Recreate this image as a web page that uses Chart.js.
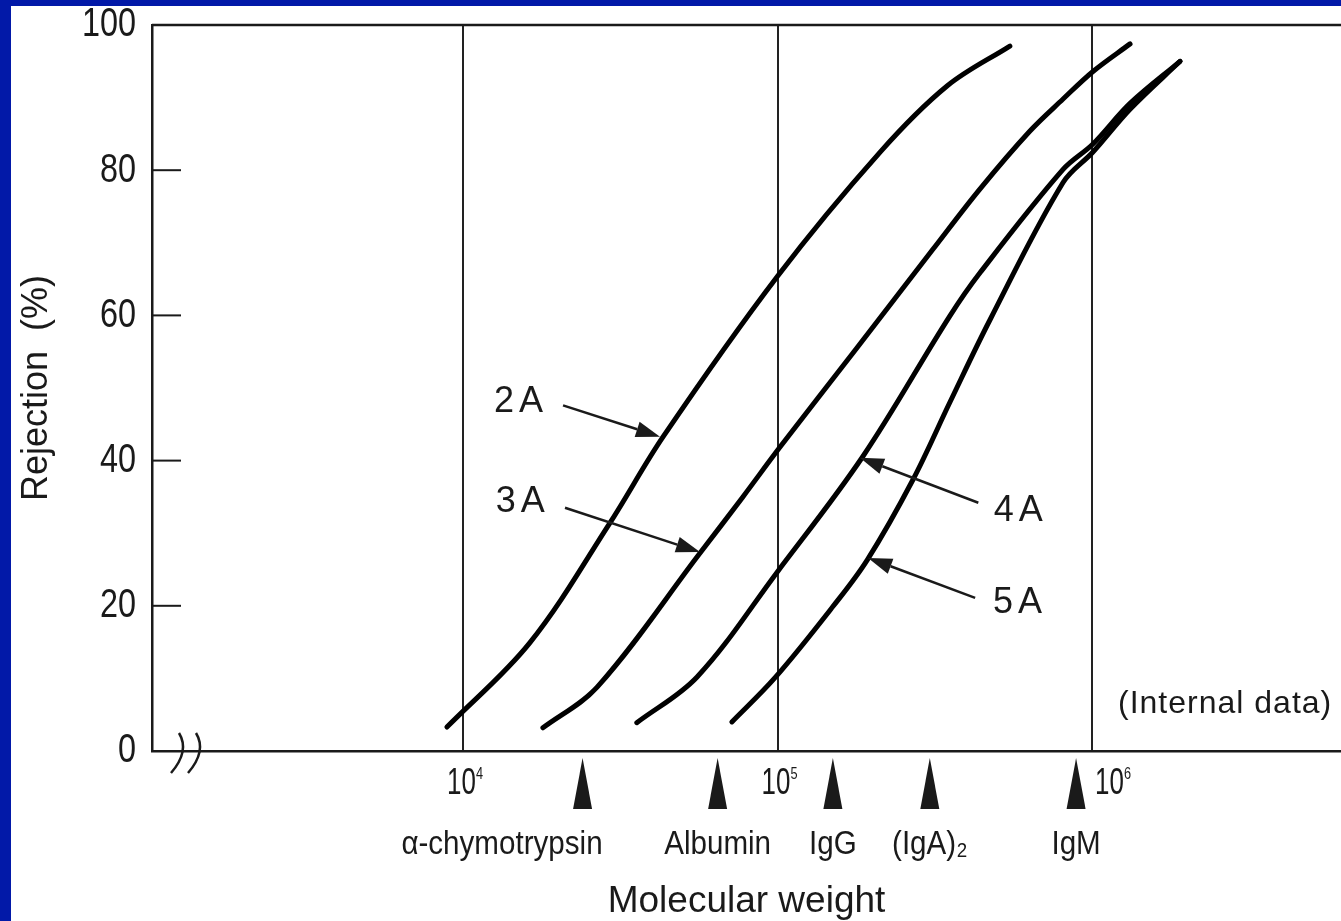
<!DOCTYPE html>
<html>
<head>
<meta charset="utf-8">
<script src="https://cdn.jsdelivr.net/npm/chart.js@4.4.1/dist/chart.umd.min.js"></script>
<style>
  html, body { margin: 0; padding: 0; background: #0219a8; }
  #wrap { position: absolute; left: 11px; top: 6px; width: 1330px; height: 915px; background: #fff; }
</style>
</head>
<body>
<div id="wrap"><canvas id="chart" width="1330" height="915"></canvas></div>
<script>
// curves: molecular weight -> rejection (%)
const mw2A = [8890, 16300, 29300, 43300, 100000, 212000, 346000, 548000];
const rej2A = [3.3, 14.9, 31.4, 43.3, 65.4, 82.5, 91.6, 97.1];

const mw3A = [17950, 26700, 56800, 77600, 102000, 178000, 312000, 440000, 635000, 809000, 1007000, 1321000];
const rej3A = [3.2, 8.8, 27.3, 35.0, 41.9, 55.4, 69.1, 77.4, 85.4, 89.8, 93.6, 97.4];

const mw4A = [35700, 55500, 99600, 187000, 353000, 441000, 809000, 1007000, 1321000, 1905000];
const rej4A = [3.9, 10.2, 24.6, 40.6, 59.9, 65.9, 80.1, 83.6, 89.2, 95.0];

const mw5A = [71600, 98200, 150000, 192800, 269800, 353000, 474000, 809000, 1007000, 1321000, 1905000];
const rej5A = [4.0, 10.1, 19.9, 26.3, 37.4, 48.0, 59.4, 78.3, 82.5, 88.4, 95.0];

const yTicks = [0, 20, 40, 60, 80, 100];
const xTickExps = [4, 5, 6];

// marker proteins under the axis
const markerNames = ['\u03b1-chymotrypsin', 'Albumin', 'IgG', '(IgA)\u2082', 'IgM'];
const markerMW = [24000, 64500, 150000, 305000, 890000];

// curve labels: text position and arrow (from -> tip), in data units
const curveNames = ['2A', '3A', '4A', '5A'];
const labelMW = [15300, 15500, 594000, 590000];
const labelRej = [48.0, 34.3, 33.1, 20.4];
const arrowFromMW = [20800, 21100, 435000, 425000];
const arrowFromRej = [47.6, 33.5, 34.2, 21.1];
const arrowTipMW = [42300, 56700, 182800, 194100];
const arrowTipRej = [43.3, 27.4, 40.4, 26.6];

const noteText = '(Internal data)';
const noteMW = 2650000;
const noteRej = 6.5;

const FONT = "'Liberation Sans', 'DejaVu Sans', sans-serif";
const INK = '#1a1a1a';

// the printed figure uses a narrow face; squeeze regular text horizontally
const tickLabelShift = [-16, -16, 3];

function pts(xs, ys) {
    return xs.map((v, i) => ({ x: v, y: ys[i] }));
}

function curve(label, xs, ys) {
    return {
        label: label,
        data: pts(xs, ys),
        borderColor: '#000',
        borderWidth: 5,
        borderCapStyle: 'round',
        pointRadius: 0,
        tension: 0.35,
        fill: false
    };
}

function narrowText(ctx, text, x, y, size, sx, align) {
    ctx.save();
    ctx.translate(x, y);
    ctx.scale(sx, 1);
    ctx.font = size + 'px ' + FONT;
    ctx.textAlign = align;
    ctx.textBaseline = 'middle';
    ctx.fillText(text, 0, 0);
    ctx.restore();
}

const overlay = {
    id: 'overlay',
    afterDatasetsDraw(chart) {
        const { ctx, chartArea: a, scales: { x, y } } = chart;
        ctx.save();
        ctx.strokeStyle = INK;
        ctx.fillStyle = INK;

        // top frame line
        ctx.lineWidth = 2.5;
        ctx.beginPath();
        ctx.moveTo(a.left, a.top);
        ctx.lineTo(a.right, a.top);
        ctx.stroke();

        // inward y ticks and their labels
        ctx.lineWidth = 2;
        yTicks.forEach((v, i) => {
            const py = y.getPixelForValue(v);
            if (i > 0 && i < yTicks.length - 1) {
                ctx.beginPath();
                ctx.moveTo(a.left, py);
                ctx.lineTo(a.left + 29, py);
                ctx.stroke();
            }
            narrowText(ctx, String(v), a.left - 16, py, 41, 0.79, 'right');
        });

        // x tick labels 10^n
        xTickExps.forEach((e, i) => {
            const px = x.getPixelForValue(Math.pow(10, e)) + tickLabelShift[i];
            narrowText(ctx, '10', px, a.bottom + 33, 37, 0.7, 'left');
            narrowText(ctx, String(e), px + 29, a.bottom + 23, 17, 0.75, 'left');
        });

        // axis break marks
        ctx.lineWidth = 2.5;
        [0, 17].forEach(dx => {
            ctx.beginPath();
            ctx.moveTo(a.left + 27 + dx, a.bottom - 18);
            ctx.quadraticCurveTo(a.left + 38 + dx, a.bottom, a.left + 19 + dx, a.bottom + 22);
            ctx.stroke();
        });

        // marker triangles and names
        markerMW.forEach((mw, i) => {
            const px = x.getPixelForValue(mw);
            ctx.beginPath();
            ctx.moveTo(px, a.bottom + 7);
            ctx.lineTo(px + 9.5, a.bottom + 58);
            ctx.lineTo(px - 9.5, a.bottom + 58);
            ctx.closePath();
            ctx.fill();
            if (i === 0) {
                narrowText(ctx, markerNames[i], px + 20, a.bottom + 94, 34, 0.87, 'right');
            } else {
                narrowText(ctx, markerNames[i], px, a.bottom + 94, 34, 0.87, 'center');
            }
        });

        // curve labels with arrows
        ctx.font = '36px ' + FONT;
        ctx.textAlign = 'center';
        ctx.textBaseline = 'middle';
        ctx.letterSpacing = '5px';
        curveNames.forEach((name, i) => {
            ctx.fillText(name, x.getPixelForValue(labelMW[i]), y.getPixelForValue(labelRej[i]));
            const x0 = x.getPixelForValue(arrowFromMW[i]);
            const y0 = y.getPixelForValue(arrowFromRej[i]);
            const x1 = x.getPixelForValue(arrowTipMW[i]);
            const y1 = y.getPixelForValue(arrowTipRej[i]);
            const ang = Math.atan2(y1 - y0, x1 - x0);
            const hl = 24, hw = 8;
            const bx = x1 - hl * Math.cos(ang), by = y1 - hl * Math.sin(ang);
            ctx.lineWidth = 2.5;
            ctx.beginPath();
            ctx.moveTo(x0, y0);
            ctx.lineTo(bx, by);
            ctx.stroke();
            ctx.beginPath();
            ctx.moveTo(x1, y1);
            ctx.lineTo(bx + hw * Math.sin(ang), by - hw * Math.cos(ang));
            ctx.lineTo(bx - hw * Math.sin(ang), by + hw * Math.cos(ang));
            ctx.closePath();
            ctx.fill();
        });

        ctx.letterSpacing = '1px';
        ctx.font = '32px ' + FONT;
        ctx.fillText(noteText, x.getPixelForValue(noteMW), y.getPixelForValue(noteRej));
        ctx.restore();
    }
};

const chart = new Chart(document.getElementById('chart'), {
    type: 'line',
    data: {
        datasets: [
            curve('2A', mw2A, rej2A),
            curve('3A', mw3A, rej3A),
            curve('4A', mw4A, rej4A),
            curve('5A', mw5A, rej5A)
        ]
    },
    options: {
        responsive: false,
        animation: false,
        devicePixelRatio: 1,
        layout: { padding: { top: 19, right: 0, left: 0, bottom: 0 } },
        plugins: {
            legend: { display: false },
            tooltip: { enabled: false }
        },
        scales: {
            x: {
                type: 'logarithmic',
                min: 1026,
                max: 6190000,
                afterBuildTicks: scale => {
                    scale.ticks = xTickExps.map(e => ({ value: Math.pow(10, e) }));
                },
                afterFit: scale => {
                    scale.height = 170;
                    scale.paddingLeft = 0;
                    scale.paddingRight = 0;
                },
                ticks: { display: false, autoSkip: false },
                grid: {
                    drawTicks: false,
                    color: '#222',
                    lineWidth: 2
                },
                border: { display: true, color: INK, width: 2.5 },
                title: {
                    display: true,
                    text: 'Molecular weight',
                    color: INK,
                    font: { family: FONT, size: 37, lineHeight: 1 },
                    padding: { top: 0, bottom: 1 }
                }
            },
            y: {
                min: 0,
                max: 100,
                afterBuildTicks: scale => {
                    scale.ticks = yTicks.map(v => ({ value: v }));
                },
                afterFit: scale => {
                    scale.width = 141;
                    scale.paddingTop = 0;
                    scale.paddingBottom = 0;
                },
                ticks: { display: false },
                grid: { display: false, drawTicks: false },
                border: { display: true, color: INK, width: 2.5 },
                title: {
                    display: true,
                    text: 'Rejection  (%)',
                    color: INK,
                    font: { family: FONT, size: 36 },
                    padding: 4
                }
            }
        }
    },
    plugins: [overlay]
});
</script>
</body>
</html>
